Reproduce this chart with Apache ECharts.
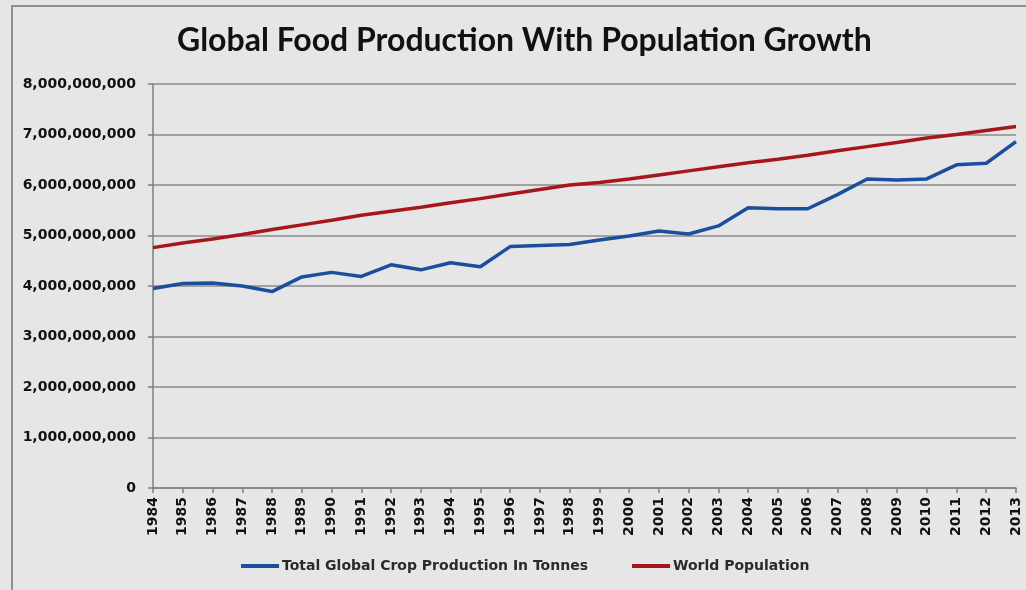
<!DOCTYPE html>
<html>
<head>
<meta charset="utf-8">
<script src="https://cdn.jsdelivr.net/npm/echarts@6/dist/echarts.min.js"></script>
<style>
    html, body { margin: 0; padding: 0; background: #e6e6e6; }
    .frame { position: absolute; left: 11px; top: 5px; width: 1100px; height: 700px; border: 2px solid #8f8f8f; }
    #chart { position: absolute; left: 0; top: 0; width: 1026px; height: 590px; }
</style>
</head>
<body>
<div class="frame"></div>
<div id="chart"></div>
<script>
const years = ['1984', '1985', '1986', '1987', '1988', '1989', '1990', '1991', '1992', '1993',
    '1994', '1995', '1996', '1997', '1998', '1999', '2000', '2001', '2002', '2003',
    '2004', '2005', '2006', '2007', '2008', '2009', '2010', '2011', '2012', '2013'];

const cropProduction = [3950000000, 4050000000, 4060000000, 4000000000, 3890000000, 4180000000, 4270000000, 4190000000, 4420000000, 4320000000,
    4460000000, 4380000000, 4780000000, 4800000000, 4820000000, 4910000000, 4990000000, 5090000000, 5030000000, 5190000000,
    5550000000, 5530000000, 5530000000, 5810000000, 6120000000, 6100000000, 6120000000, 6400000000, 6430000000, 6860000000];

const worldPopulation = [4760000000, 4850000000, 4930000000, 5020000000, 5120000000, 5210000000, 5300000000, 5400000000, 5480000000, 5560000000,
    5650000000, 5730000000, 5820000000, 5910000000, 6000000000, 6050000000, 6120000000, 6200000000, 6280000000, 6360000000,
    6440000000, 6510000000, 6590000000, 6680000000, 6760000000, 6840000000, 6930000000, 7000000000, 7080000000, 7160000000];

const seriesNames = ['Total Global Crop Production In Tonnes', 'World Population'];

const labelFont = 'DejaVu Sans';
const chart = echarts.init(document.getElementById('chart'));

chart.setOption({
    backgroundColor: 'transparent',
    animation: false,
    color: ['#1b4f9e', '#a8161a'],
    title: {
        text: 'Global Food Production With Population Growth',
        left: 172,
        top: 20,
        textStyle: {
            fontFamily: 'Lato',
            fontWeight: 'bold',
            fontSize: 32,
            color: '#111'
        }
    },
    legend: {
        left: 241,
        top: 559,
        padding: 0,
        icon: 'rect',
        itemWidth: 38,
        itemHeight: 4,
        itemGap: 44,
        textStyle: {
            fontFamily: labelFont,
            fontWeight: 'bold',
            fontSize: 14,
            color: '#2a2a2a',
            padding: [0, 0, 0, -2]
        },
        data: seriesNames
    },
    grid: {
        left: 153,
        right: 10,
        top: 84,
        bottom: 102
    },
    xAxis: {
        type: 'category',
        boundaryGap: false,
        data: years,
        axisLine: { lineStyle: { color: '#7f7f7f', width: 1.5 } },
        axisTick: { show: true, interval: 0, length: 5, lineStyle: { color: '#7f7f7f', width: 1.5 } },
        axisLabel: {
            interval: 0,
            rotate: 90,
            margin: 9,
            fontFamily: labelFont,
            fontWeight: 'bold',
            fontSize: 14,
            color: '#111'
        }
    },
    yAxis: {
        type: 'value',
        min: 0,
        max: 8000000000,
        interval: 1000000000,
        axisLine: { show: true, lineStyle: { color: '#7f7f7f', width: 1.5 } },
        axisTick: { show: true, length: 5, lineStyle: { color: '#7f7f7f', width: 1.5 } },
        splitLine: { lineStyle: { color: '#8a8a8a', width: 1.5 } },
        axisLabel: {
            margin: 17,
            fontFamily: labelFont,
            fontWeight: 'bold',
            fontSize: 14,
            color: '#111',
            formatter: (v) => v.toLocaleString('en-US')
        }
    },
    series: [
        {
            name: seriesNames[0],
            type: 'line',
            symbol: 'none',
            lineStyle: { width: 3.5 },
            data: cropProduction
        },
        {
            name: seriesNames[1],
            type: 'line',
            symbol: 'none',
            lineStyle: { width: 3.5 },
            data: worldPopulation
        }
    ]
});
</script>
</body>
</html>
